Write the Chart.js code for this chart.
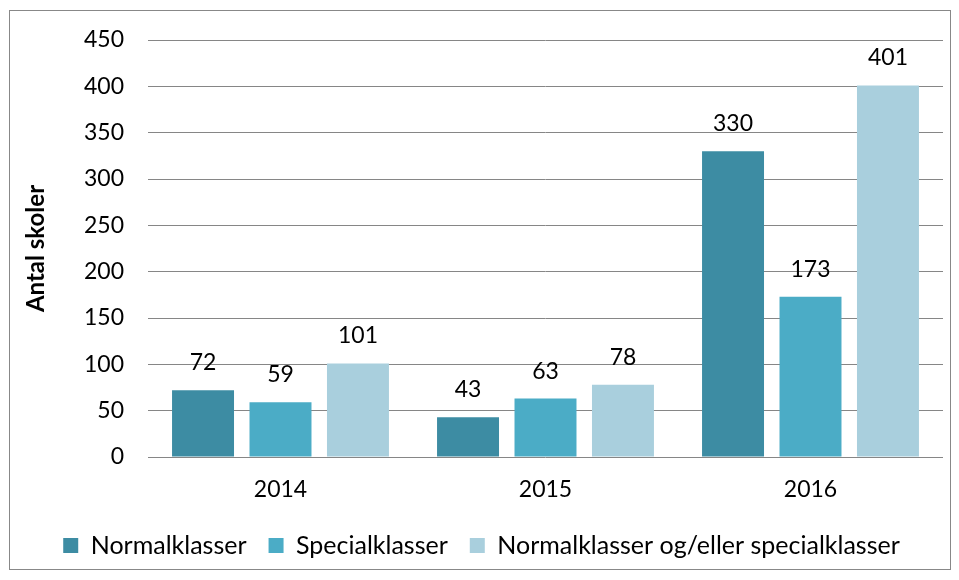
<!DOCTYPE html>
<html>
<head>
<meta charset="utf-8">
<script src="https://cdn.jsdelivr.net/npm/chart.js@4.4.1/dist/chart.umd.min.js"></script>
<style>
  body { margin: 0; background: #fff; }
  #wrap { position: relative; width: 959px; height: 580px; }
  #frame { position: absolute; left: 9px; top: 10px; width: 940px; height: 558px; border: 1px solid #888; pointer-events: none; }
</style>
</head>
<body>
<div id="wrap">
  <canvas id="chart" width="959" height="580"></canvas>
  <div id="frame"></div>
</div>
<script>
const years = ['2014', '2015', '2016']
const seriesNames = ['Normalklasser', 'Specialklasser', 'Normalklasser og/eller specialklasser']
const normal = [72, 43, 330]
const special = [59, 63, 173]
const normalOrSpecial = [101, 78, 401]
const yTicks = [0, 50, 100, 150, 200, 250, 300, 350, 400, 450]

const colors = ['#3d8ca3', '#4bacc6', '#a9cfdd']
const fontFamily = "Lato, 'Open Sans', sans-serif"

// values written above each bar
const valueLabels = {
  id: 'valueLabels',
  afterDatasetsDraw(chart) {
    const ctx = chart.ctx
    ctx.save()
    ctx.font = '23px ' + fontFamily
    ctx.fillStyle = '#000'
    ctx.textAlign = 'center'
    ctx.textBaseline = 'alphabetic'
    chart.data.datasets.forEach((ds, i) => {
      chart.getDatasetMeta(i).data.forEach((bar, j) => {
        ctx.fillText(ds.data[j], bar.x, bar.y - 20)
      })
    })
    ctx.restore()
  }
}

const seriesData = [normal, special, normalOrSpecial]

new Chart(document.getElementById('chart'), {
  type: 'bar',
  data: {
    labels: years,
    datasets: seriesData.map((d, i) => ({
      label: seriesNames[i],
      data: d,
      backgroundColor: colors[i],
      borderWidth: 0,
      categoryPercentage: 0.877,
      barPercentage: 0.8
    }))
  },
  options: {
    responsive: false,
    animation: false,
    layout: { padding: { left: 20, right: 16, top: 40, bottom: 12 } },
    scales: {
      x: {
        grid: { display: false },
        border: { display: false },
        ticks: { color: '#000', font: { family: fontFamily, size: 23 }, padding: 11 },
        afterFit(scale) { scale.height = 54 }
      },
      y: {
        min: 0,
        max: 450,
        afterBuildTicks(scale) { scale.ticks = yTicks.map(v => ({ value: v })) },
        grid: { color: '#868686', drawTicks: false },
        border: { display: false },
        ticks: { color: '#000', font: { family: fontFamily, size: 23 }, padding: 24 },
        title: {
          display: true,
          text: 'Antal skoler',
          color: '#000',
          font: { family: fontFamily, size: 24, weight: 'bold' },
          padding: { top: 2, bottom: 0 }
        },
        afterFit(scale) { scale.width = 128 }
      }
    },
    plugins: {
      legend: {
        position: 'bottom',
        labels: {
          color: '#000',
          font: { family: fontFamily, size: 25 },
          boxWidth: 15,
          boxHeight: 15,
          padding: 22
        }
      },
      tooltip: { enabled: false }
    }
  },
  plugins: [valueLabels]
})
</script>
</body>
</html>
